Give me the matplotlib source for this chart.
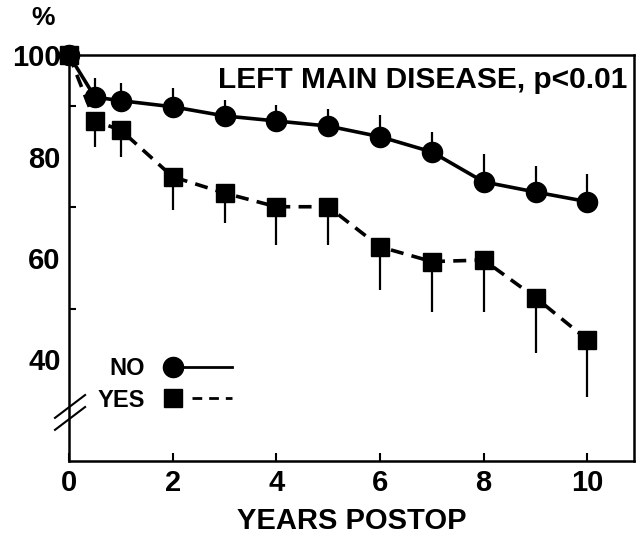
import numpy as np
import matplotlib
matplotlib.use("Agg")
import matplotlib.pyplot as plt
from matplotlib.lines import Line2D
from matplotlib.legend_handler import HandlerLine2D

# survival data
years = [0, 0.5, 1, 2, 3, 4, 5, 6, 7, 8, 9, 10]
no_pct = [100, 91.7, 91.0, 89.8, 88.0, 87.0, 86.0, 83.9, 80.9, 75.0, 73.0, 71.1]
no_err = [0, 3.8, 3.5, 3.7, 3.1, 3.2, 3.4, 4.3, 3.9, 5.5, 5.1, 5.5]
yes_pct = [100, 87.0, 85.2, 76.0, 72.8, 70.1, 70.1, 62.2, 59.3, 59.6, 52.2, 43.9]
yes_err = [0, 5.1, 5.3, 6.5, 5.9, 7.5, 7.5, 8.5, 9.9, 10.2, 10.9, 11.2]

xticks = [0, 2, 4, 6, 8, 10]
yticks = [40, 60, 80, 100]
yminor = [50, 70, 90]

plt.rcParams['font.family'] = ['Liberation Sans', 'DejaVu Sans']
plt.rcParams['font.weight'] = 'bold'


class MarkerLeftHandler(HandlerLine2D):
    # legend marker sits at the left end of the handle line
    def create_artists(self, legend, orig_handle, xdescent, ydescent, width, height,
                       fontsize, trans):
        y = (height - ydescent) / 2
        x0 = -xdescent
        start = x0 if orig_handle.get_linestyle() == '-' else x0 + 0.33 * width
        line = Line2D([start, x0 + width], [y, y])
        self.update_prop(line, orig_handle, legend)
        line.set_marker('None')
        mk = Line2D([x0], [y])
        self.update_prop(mk, orig_handle, legend)
        mk.set_linestyle('None')
        line.set_transform(trans)
        mk.set_transform(trans)
        return [line, mk]


fig = plt.figure(figsize=(6.43, 5.42), dpi=100)
ax = fig.add_axes([69/643, 1-461/542, 565/643, 406/542])

lw = 2.6
ax.errorbar(years, no_pct, yerr=[np.zeros(len(no_err)), no_err], fmt='none',
            ecolor='black', elinewidth=1.6, capsize=0, zorder=2)
ax.errorbar(years, yes_pct, yerr=[yes_err, np.zeros(len(yes_err))], fmt='none',
            ecolor='black', elinewidth=1.6, capsize=0, zorder=2)
ax.plot(years, no_pct, color='black', lw=lw, marker='o', ms=14.5, zorder=3, clip_on=False)
ax.plot(years, yes_pct, color='black', lw=lw, marker='s', ms=12.5, zorder=3,
        linestyle=(0, (3.6, 2.3)), clip_on=False)

ax.set_xlim(0, 10.9)
ax.set_ylim(20, 100)
ax.set_xticks(xticks)
ax.set_yticks(yticks)
ax.set_yticks(yminor, minor=True)
ax.tick_params(axis='x', direction='in', length=6, width=1.5, pad=6, labelsize=21)
ax.tick_params(axis='y', which='major', length=0, pad=6, labelsize=21)
ax.tick_params(axis='y', which='minor', direction='in', length=5, width=1.5)
for s in ax.spines.values():
    s.set_linewidth(1.8)

ax.set_xlabel('YEARS POSTOP', fontsize=21, fontweight='bold', labelpad=7)
fig.text(43/643, 1-18/542, '%', fontsize=19, fontweight='bold', ha='center', va='center')
ax.text(0.9876, 0.938, 'LEFT MAIN DISEASE, p<0.01', transform=ax.transAxes,
        ha='right', va='center', fontsize=21.5)

# axis break marks
for off in [0, 12]:
    ax.plot([-0.27, 0.31], [28.5 - off/5.08, 33.0 - off/5.08], color='black', lw=1.5,
            clip_on=False, zorder=4)

handles = [Line2D([], [], color='black', lw=2, marker='o', ms=14.5, linestyle='-'),
           Line2D([], [], color='black', lw=2, marker='s', ms=12.5, linestyle='--',
                  dashes=(3.5, 2.5))]
leg = ax.legend(handles, ['NO', 'YES'], loc='upper left', bbox_to_anchor=(0.05, 0.255),
                frameon=False, markerfirst=False, fontsize=17, handlelength=2.5,
                handletextpad=1.2, labelspacing=0.35, borderpad=0, borderaxespad=0,
                handler_map={Line2D: MarkerLeftHandler()})

fig.savefig('out.png', dpi=100)
